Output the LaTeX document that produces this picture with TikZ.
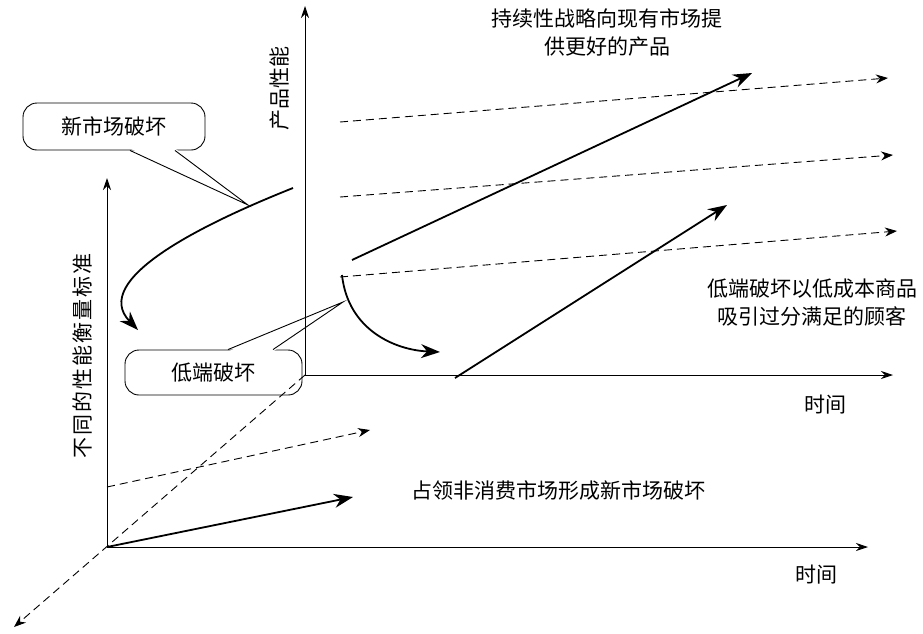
\documentclass[tikz,border=0pt]{standalone}
\usepackage{fontspec}
\newfontfamily\cjk{Noto Sans CJK SC}
\newfontfamily\cjkwide{Noto Sans CJK SC}[LetterSpace=10]
\usetikzlibrary{arrows.meta}
\tikzset{
  lbl/.style={font=\cjk\fontsize{21}{28}\selectfont, inner sep=0pt, align=center},
  axis/.style={line width=0.9pt, -{Stealth[length=12pt,width=8pt]}},
  trend/.style={line width=0.9pt, dash pattern=on 8pt off 5pt, -{Stealth[length=12pt,width=9pt]}},
  move/.style={line width=1.8pt, -{Stealth[length=19pt,width=14pt]}},
  bubble/.style={draw, line width=0.9pt, rounded corners=14pt, lbl},
}
\begin{document}
\begin{tikzpicture}[x=1pt,y=-1pt]
      \useasboundingbox (0,0) rectangle (923,633);
      \coordinate(o1) at (107,547);
      \coordinate(o2) at (305,375);
      \coordinate(x1) at (868,547);
      \coordinate(y1) at (107,178);
      \coordinate(x2) at (893,375);
      \coordinate(y2) at (305,6);
      \coordinate(z1) at (14,627);

      \coordinate(d1) at (107,487);
      \coordinate(d2) at (370,430);
      \coordinate(d3) at (340,122);
      \coordinate(d4) at (888,78);
      \coordinate(d5) at (340,197);
      \coordinate(d6) at (893,155);
      \coordinate(d7) at (340,277);
      \coordinate(d8) at (897,231);

      \coordinate(m1) at (353,497);
      \coordinate(m2) at (352,260);
      \coordinate(m3) at (752,73);
      \coordinate(m4) at (455,378);
      \coordinate(m5) at (727,205);

      \coordinate(c1) at (293,188);
      \coordinate(c2) at (138,330);
      \coordinate(c3) at (342,275);
      \coordinate(c4) at (440,352);
      %
      % callouts
      \node[bubble, minimum width=182pt, minimum height=47pt](nmbox) at (114,126.5){新市场破坏};
      \node[bubble, minimum width=177pt, minimum height=45pt](lebox) at (213.5,372.5){低端破坏};
      \coordinate(nmtip) at (248,205);
      \coordinate(letip) at (343,302);
      \fill[white] ([xshift=16pt,yshift=2pt]nmbox.south) -- (nmtip) -- ([xshift=61pt,yshift=2pt]nmbox.south) -- cycle;
      \draw[line width=0.9pt] ([xshift=16pt]nmbox.south) -- (nmtip) -- ([xshift=61pt]nmbox.south);
      \fill[white] ([xshift=14.5pt,yshift=-2pt]lebox.north) -- (letip) -- ([xshift=59.5pt,yshift=-2pt]lebox.north) -- cycle;
      \draw[line width=0.9pt] ([xshift=14.5pt]lebox.north) -- (letip) -- ([xshift=59.5pt]lebox.north);

      % axes
      \draw[axis] (o1) -- (y1);
      \draw[axis] (o1) -- (x1);
      \draw[axis] (o2) -- (y2);
      \draw[axis] (o2) -- (x2);
      \draw[trend] (o2) -- (z1);

      \draw[trend] (d1) -- (d2);
      \draw[trend] (d3) -- (d4);
      \draw[trend] (d5) -- (d6);
      \draw[trend] (d7) -- (d8);

      \draw[move] (o1) -- (m1);
      \draw[move] (m2) -- (m3);
      \draw[move] (m4) -- (m5);
      \draw[move] (c1) .. controls (200,225) and (90,280) .. (c2);
      \draw[move] (c3) .. controls (348,330) and (395,350) .. (c4);

      % labels
      \node[lbl](sus) at (607,33){持续性战略向现有市场提\\供更好的产品};
      \node[lbl](low) at (812,302){低端破坏以低成本商品\\吸引过分满足的顾客};
      \node[lbl](non) at (558,490){占领非消费市场形成新市场破坏};
      \node[lbl](time2) at (825,405){时间};
      \node[lbl](time1) at (816,575){时间};
      \node[lbl, font=\cjkwide\fontsize{21}{28}\selectfont, rotate=90](perf1) at (82,356){不同的性能衡量标准};
      \node[lbl, rotate=90](perf2) at (280,88){产品性能};

    \end{tikzpicture}
\end{document}
